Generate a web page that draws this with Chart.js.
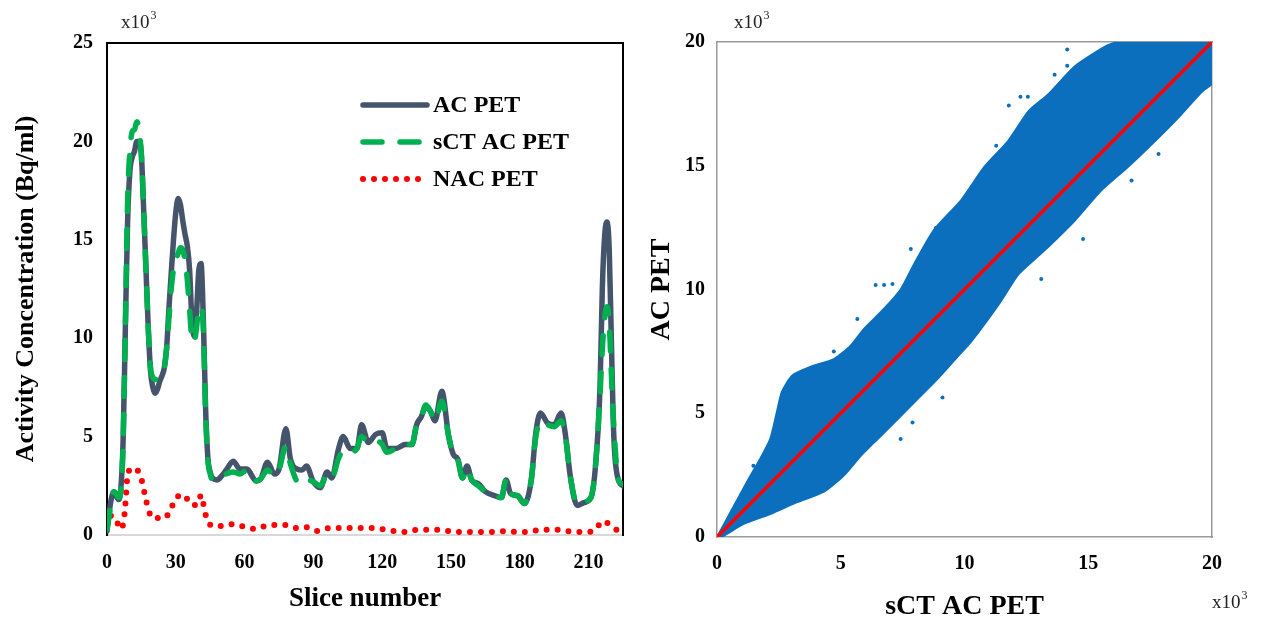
<!DOCTYPE html>
<html>
<head>
<meta charset="utf-8">
<script src="https://cdn.jsdelivr.net/npm/chart.js@4.4.1/dist/chart.umd.min.js"></script>
<style>
body { margin: 0; background: #fff; }
#wrap { display: flex; width: 1274px; height: 627px; }
canvas { display: block; }
</style>
</head>
<body>
<div id="wrap">
  <canvas id="profileChart" width="637" height="627"></canvas>
  <canvas id="scatterChart" width="637" height="627"></canvas>
</div>
<script>
// ---- left panel: activity profile along slices (values in x10^3 Bq/ml)
const slices = [0,1,2,3,4,5,6,7,8,9,10,11,12,13,14,15,16,17,18,19,20,21,22,23,24,25,26,27,28,29,
  30,31,32,33,34,35,36,37,38,39,40,41,42,43,44,45,46,48,50,52,55,58,61,65,67,70,73,75,78,80,
  83,85,87,90,93,96,98,101,103,106,109,111,114,117,120,122,126,130,133,135,137,139,141,143,146,149,
  151,153,155,157,159,162,165,169,172,174,176,179,182,185,187,189,192,195,198,200,202,
  205,208,211,213,215,216,217,218,219,220,221,223,225];
const acPet = [0.2,1.2,1.9,2.2,2.0,1.8,2.3,4.7,10.5,16.0,18.5,19.2,19.5,20.0,20.0,19.3,16.5,13.5,10.5,8.3,
  7.5,7.2,7.4,7.8,8.1,8.5,9.5,11.5,13.3,15.0,16.4,17.1,16.8,16.0,15.3,14.7,13.5,11.0,10.1,11.2,
  13.4,13.8,11.0,6.4,3.9,3.2,2.9,
  2.8,3.0,3.3,3.75,3.35,3.35,2.75,2.85,3.7,3.1,3.35,5.4,3.85,3.35,3.3,3.5,2.7,2.4,3.2,2.9,
  4.4,5.0,4.4,4.4,5.6,4.7,5.1,5.2,4.4,4.4,4.6,4.6,5.6,6.0,6.5,6.3,5.8,7.3,5.0,4.1,
  3.85,2.9,3.5,2.8,2.6,2.2,2.0,1.9,2.8,2.1,2.0,1.6,2.8,5.2,6.2,5.7,5.6,6.2,5.0,3.0,
  1.5,1.65,1.9,3.5,7.6,12.6,15.2,15.9,14.5,9.5,5.0,2.8,2.5];
const sctAcPet = [0.3,1.0,1.9,2.2,2.1,1.9,2.2,4.5,10.5,17.0,19.5,20.5,20.6,21.0,20.5,19.3,16.5,13.5,10.5,8.5,
  8.0,7.9,7.9,8.0,8.2,8.5,9.5,11.0,12.5,13.5,14.0,14.3,14.6,14.5,14.0,13.0,11.5,10.0,9.8,10.5,
  11.5,11.6,10.5,6.2,3.8,3.1,2.8,
  2.8,2.9,3.1,3.2,3.1,3.3,2.75,2.85,3.3,3.0,3.3,4.5,3.6,2.7,2.6,2.8,2.7,2.5,3.1,2.9,
  3.9,4.3,4.2,4.4,5.0,4.7,4.8,4.6,4.2,4.4,4.6,4.6,5.6,6.0,6.6,6.3,5.8,6.8,5.0,4.1,
  3.8,2.9,3.4,2.8,2.5,2.2,2.0,1.9,2.8,2.1,2.0,1.6,2.8,5.0,5.8,5.6,5.5,5.8,4.9,3.0,
  1.6,1.7,1.9,3.5,7.2,9.5,11.0,11.6,10.8,8.0,5.5,2.8,2.6];
const nacSlices = [0,1.6,3.8,5.9,7.4,8.3,9,11.4,14.6,16.8,18,20,25,28,30,33.6,36.3,38.9,41.2,42.2,
  43.3,46,51,55,60,65,69,74,78,83,87,92,97,101,106,111,116,120,125,130,
  134,138,141,146,151,155,160,165,170,174,179,184,189,194,198,203,208,213,216,219,223,225];
const nacPet = [0.47,0.98,0.81,0.3,0.81,2.0,3.1,3.4,3.0,1.9,1.3,0.86,0.86,1.37,1.88,2.03,1.57,1.52,2.03,1.47,
  0.91,0.46,0.46,0.56,0.41,0.3,0.46,0.51,0.51,0.35,0.4,0.2,0.35,0.35,0.35,0.35,0.35,0.3,0.2,0.15,
  0.25,0.27,0.27,0.27,0.15,0.15,0.15,0.15,0.15,0.2,0.15,0.15,0.27,0.27,0.27,0.15,0.15,0.27,0.7,0.55,0.2,0.1];
const sliceTicks = [0,30,60,90,120,150,180,210];
const activityTicks = [0,5,10,15,20,25];

// ---- right panel: voxel cloud AC PET vs sCT AC PET (x10^3), edges of the dense cloud
const cloudTopX = [0,0.6,1.2,1.74,2.15,2.42,2.62,3.03,3.77,4.72,5.4,5.93,6.73,7.42,7.95,8.76,9.86,10.8,11.76,12.58,13.4,14.44,15.66,16.2,20];
const cloudTopY = [0,1.1,2.2,3.15,3.96,5.05,5.86,6.52,6.87,7.19,7.73,8.4,9.2,10.0,11.0,12.4,13.6,14.95,16.0,17.2,17.9,19.0,19.8,20,20];
const cloudBottomX = [0,0.25,1.06,2.15,3.24,4.3,5.1,5.8,6.49,7.3,8.1,8.9,9.74,10.26,11.48,12.17,13.2,14.44,15.5,16.6,17.7,18.66,19.6,20];
const cloudBottomY = [0,0.04,0.52,0.93,1.41,1.82,2.46,3.27,3.96,4.77,5.57,6.38,7.31,7.88,9.54,10.6,11.55,12.77,13.98,14.95,16.0,16.97,18.0,18.3];
const strayX = [14.15,14.15,13.64,11.79,12.26,12.56,11.28,10.54,8.84,7.83,14.79,13.1,16.75,17.84,1.47,3.64,4.72,5.67,6.41,6.75,7.09,7.42,9.11,7.9];
const strayY = [19.7,19.04,18.68,17.43,17.79,17.79,15.81,14.4,12.48,11.64,12.04,10.42,14.4,15.47,2.88,5.71,7.49,8.81,10.18,10.18,10.22,3.96,5.64,4.63];
const identityX = [0,20];
const identityY = [0,20];
const petTicks = [0,5,10,15,20];

Chart.defaults.font.family = '"Liberation Serif", "Times New Roman", serif';
Chart.defaults.color = '#000';

function pts(xs, ys) {
    return xs.map((x, i) => ({x: x, y: ys[i]}))
}
function fixTicks(list) {
    return function(axis) { axis.ticks = list.map(v => ({value: v})) }
}

// "x10^3" notes next to the axes
const powerNote = {
    id: 'powerNote',
    afterDraw(chart, args, opts) {
        const ctx = chart.ctx
        ctx.save()
        ctx.fillStyle = '#222'
        ctx.textBaseline = 'alphabetic'
        ;(opts.items || []).forEach(it => {
            ctx.font = '19px "Liberation Serif"'
            ctx.fillText('x10', it.x, it.y)
            const w = ctx.measureText('x10').width
            ctx.font = '12px "Liberation Serif"'
            ctx.fillText('3', it.x + w + 1, it.y - 9)
        })
        ctx.restore()
    }
}

// legend drawn inside the plot, like the original figure
const insideLegend = {
    id: 'insideLegend',
    afterDraw(chart, args, opts) {
        const ctx = chart.ctx
        ctx.save()
        chart.data.datasets.forEach((ds, i) => {
            const y = opts.top + i * opts.gap
            ctx.beginPath()
            ctx.lineWidth = ds.borderWidth
            ctx.strokeStyle = ds.borderColor
            ctx.lineCap = ds.borderCapStyle || 'butt'
            ctx.setLineDash(ds.borderDash || [])
            ctx.moveTo(opts.x, y)
            ctx.lineTo(opts.x + opts.len, y)
            ctx.stroke()
            ctx.setLineDash([])
            ctx.fillStyle = '#000'
            ctx.font = 'bold 24px "Liberation Serif"'
            ctx.textBaseline = 'middle'
            ctx.fillText(ds.label, opts.x + opts.len + 6, y + 1)
        })
        ctx.restore()
    }
}

const tickFont = {size: 20, weight: 'bold'}

new Chart(document.getElementById('profileChart'), {
    type: 'line',
    data: {
        datasets: [{
            label: 'AC PET',
            data: pts(slices, acPet),
            borderColor: '#44546a',
            borderWidth: 5.5,
            borderCapStyle: 'round',
            order: 1
        }, {
            label: 'sCT AC PET',
            data: pts(slices, sctAcPet),
            borderColor: '#00b050',
            borderWidth: 5.5,
            borderDash: [19, 18],
            borderCapStyle: 'round',
            order: 0
        }, {
            label: 'NAC PET',
            data: pts(nacSlices, nacPet),
            borderColor: '#ff0000',
            borderWidth: 6,
            borderDash: [0, 11],
            borderCapStyle: 'round',
            order: 2
        }]
    },
    options: {
        responsive: false,
        animation: false,
        layout: {padding: {left: 0, top: 43, right: 14, bottom: 0}},
        elements: {
            point: {radius: 0},
            line: {cubicInterpolationMode: 'monotone', fill: false}
        },
        plugins: {
            legend: {display: false},
            tooltip: {enabled: false},
            powerNote: {items: [{x: 121, y: 28}]},
            insideLegend: {x: 363, len: 64, top: 105, gap: 37}
        },
        scales: {
            x: {
                type: 'linear', min: 0, max: 225,
                afterBuildTicks: fixTicks(sliceTicks),
                afterFit: (s) => { s.height = 92 },
                grid: {display: false, drawTicks: false},
                border: {color: '#d9d9d9', width: 2},
                ticks: {font: tickFont, padding: 16},
                title: {display: true, text: 'Slice number', font: {size: 27, weight: 'bold'}, padding: {bottom: 12}}
            },
            y: {
                min: 0, max: 25,
                afterBuildTicks: fixTicks(activityTicks),
                afterFit: (s) => { s.width = 107 },
                grid: {display: false, drawTicks: false},
                border: {color: '#000', width: 2},
                ticks: {font: tickFont, padding: 14},
                title: {display: true, text: 'Activity Concentration (Bq/ml)', font: {size: 26, weight: 'bold'}, padding: {top: 11}}
            },
            xTop: {
                position: 'top', min: 0, max: 1,
                afterFit: (s) => { s.height = 0 },
                grid: {display: false, drawTicks: false},
                border: {color: '#000', width: 2},
                ticks: {display: false}
            },
            yRight: {
                position: 'right', min: 0, max: 1,
                afterFit: (s) => { s.width = 0 },
                grid: {display: false, drawTicks: false},
                border: {color: '#000', width: 2},
                ticks: {display: false}
            }
        }
    },
    plugins: [powerNote, insideLegend]
});

const cloudBlue = '#0b6fbd'

new Chart(document.getElementById('scatterChart'), {
    type: 'line',
    data: {
        datasets: [{
            label: 'cloud top',
            data: pts(cloudTopX, cloudTopY),
            borderColor: cloudBlue,
            borderWidth: 2,
            fill: false,
            order: 3
        }, {
            label: 'cloud bottom',
            data: pts(cloudBottomX, cloudBottomY),
            borderColor: cloudBlue,
            backgroundColor: cloudBlue,
            borderWidth: 2,
            fill: '-1',
            order: 3
        }, {
            label: 'stray voxels',
            data: pts(strayX, strayY),
            showLine: false,
            pointRadius: 2,
            pointBackgroundColor: cloudBlue,
            pointBorderWidth: 0,
            order: 2
        }, {
            label: 'identity',
            data: pts(identityX, identityY),
            borderColor: '#ff0000',
            borderWidth: 3.5,
            fill: false,
            order: 0
        }]
    },
    options: {
        responsive: false,
        animation: false,
        layout: {padding: {left: 0, top: 42, right: 62, bottom: 0}},
        elements: {
            point: {radius: 0},
            line: {tension: 0.2}
        },
        plugins: {
            legend: {display: false},
            tooltip: {enabled: false},
            powerNote: {items: [{x: 97, y: 28}, {x: 575, y: 608}]}
        },
        scales: {
            x: {
                type: 'linear', min: 0, max: 20,
                afterBuildTicks: fixTicks(petTicks),
                afterFit: (s) => { s.height = 90 },
                grid: {display: false, drawTicks: false},
                border: {color: '#999', width: 1.5},
                ticks: {font: tickFont, padding: 15},
                title: {display: true, text: 'sCT AC PET', font: {size: 28, weight: 'bold'}, padding: {bottom: 3}}
            },
            y: {
                min: 0, max: 20,
                afterBuildTicks: fixTicks(petTicks),
                afterFit: (s) => { s.width = 80 },
                grid: {display: false, drawTicks: false},
                border: {color: '#999', width: 1.5},
                ticks: {font: tickFont, padding: 12},
                title: {display: true, text: 'AC PET', font: {size: 28, weight: 'bold'}, padding: {top: 8}}
            },
            xTop: {
                position: 'top', min: 0, max: 1,
                afterFit: (s) => { s.height = 0 },
                grid: {display: false, drawTicks: false},
                border: {color: '#999', width: 1.5},
                ticks: {display: false}
            },
            yRight: {
                position: 'right', min: 0, max: 1,
                afterFit: (s) => { s.width = 0 },
                grid: {display: false, drawTicks: false},
                border: {color: '#999', width: 1.5},
                ticks: {display: false}
            }
        }
    },
    plugins: [powerNote]
});
</script>
</body>
</html>
